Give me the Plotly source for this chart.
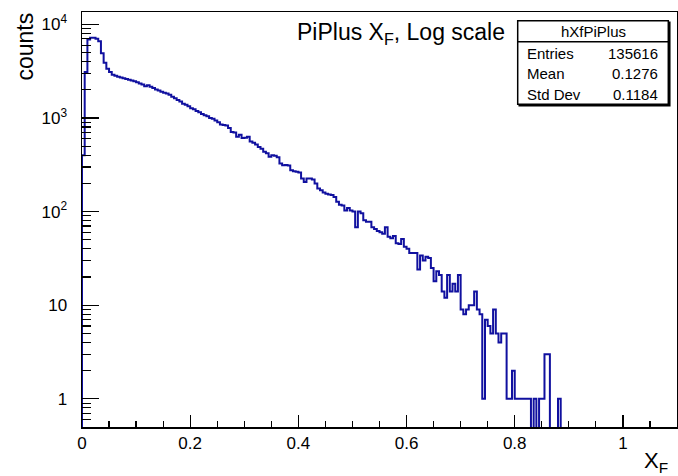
import math
import plotly.graph_objects as go

# ---------------- data ----------------
HIST_NAME = "hXfPiPlus"
TITLE = "PiPlus X<sub>F</sub>, Log scale"
X_TITLE = "X<sub>F</sub>"
Y_TITLE = "counts"
BIN_WIDTH = 0.005
X_RANGE = [0.0, 1.1]
Y_RANGE = [0.5, 13550]

COUNTS = [
    400, 3100, 6900, 7200, 7200, 7000, 6600, 4900, 3900, 3350,
    3100, 2900, 2820, 2760, 2700, 2660, 2600, 2560, 2510, 2470,
    2400, 2330, 2280, 2180, 2240, 2150, 2090, 2010, 1960, 1910,
    1860, 1820, 1770, 1690, 1620, 1560, 1500, 1420, 1380, 1330,
    1270, 1240, 1190, 1150, 1100, 1070, 1040, 1000, 980, 940,
    900, 850, 840, 830, 780, 710, 700, 630, 660, 610,
    615, 630, 560, 545, 520, 490, 470, 435, 420, 385,
    400, 395, 380, 327, 313, 315, 310, 277, 270, 266,
    262, 226, 207, 226, 226, 220, 200, 176, 169, 160,
    155, 152, 150, 143, 127, 118, 116, 103, 109, 103,
    100, 68, 100, 96, 81, 78, 78, 68, 65, 62,
    60, 58, 68, 54, 52, 55, 46, 45, 51, 42,
    40, 36, 36, 36, 24, 34, 30, 33, 32, 25,
    18, 23, 21, 14, 12, 21, 14, 17, 14, 21,
    9, 8, 9, 10, 10, 14, 9, 8, 1, 7,
    6, 5, 9, 5, 4, 5, 5, 1, 1, 2,
    1, 1, 1, 1, 1, 1, 0, 1, 0, 1,
    1, 3, 3, 0, 0, 0, 1, 0, 0, 0,
    0, 0, 0, 0, 0, 0, 0, 0, 0, 0,
    0, 0, 0, 0, 0, 0, 0, 0, 0, 0,
    0, 0, 0, 0, 0, 0, 0, 0, 0, 0,
    0, 0, 0, 0, 0, 0, 0, 0, 0, 0,
]

STAT_LABELS = ["Entries", "Mean", "Std Dev"]
STAT_VALUES = ["135616", "0.1276", "0.1184"]

Y_TICK_VALS = [1, 10, 100, 1000, 10000]
Y_TICK_TEXT = ["1", "10", "10<sup>2</sup>", "10<sup>3</sup>", "10<sup>4</sup>"]
Y_MINOR_VALS = [0.6, 0.7, 0.8, 0.9,
                2, 3, 4, 5, 6, 7, 8, 9,
                20, 30, 40, 50, 60, 70, 80, 90,
                200, 300, 400, 500, 600, 700, 800, 900,
                2000, 3000, 4000, 5000, 6000, 7000, 8000, 9000]

# ---------------- layout geometry (pixels) ----------------
W, H = 678, 476
FRAME_L, FRAME_R, FRAME_T, FRAME_B = 82, 677, 12, 427
ML, MR, MT, MB = FRAME_L, W - FRAME_R, FRAME_T, H - FRAME_B
PW, PH = W - ML - MR, H - MT - MB
FONT = "Liberation Sans, Arial, Helvetica, sans-serif"
LINE_COLOR = "#10109f"


def px(x):
    return (x - FRAME_L) / PW


def py(y):
    return (FRAME_B - y) / PH


# step histogram from bin edges
FLOOR = 1e-3
edges = [i * BIN_WIDTH for i in range(len(COUNTS) + 1)]
plot_counts = [c if c > 0 else FLOOR for c in COUNTS]
xs = [edges[0]] + edges[:-1] + [edges[-1]]
ys = [FLOOR] + plot_counts + [plot_counts[-1]]

fig = go.Figure()
fig.add_trace(go.Scatter(
    x=xs, y=ys, mode="lines", line_shape="hv",
    line=dict(color=LINE_COLOR, width=2), hoverinfo="skip", showlegend=False,
))

axis_common = dict(
    showline=True, linecolor="black", linewidth=1.5, mirror=True,
    ticks="inside", tickcolor="black", tickwidth=1.2,
    showgrid=False, zeroline=False,
    tickfont=dict(family=FONT, size=17, color="black"),
)

fig.update_xaxes(
    range=X_RANGE, tick0=0, dtick=0.2, ticklen=12,
    minor=dict(dtick=0.05, tick0=0, ticklen=6, ticks="inside",
               tickcolor="black", tickwidth=1.2, showgrid=False),
    **axis_common,
)
fig.update_yaxes(
    type="log", range=[math.log10(Y_RANGE[0]), math.log10(Y_RANGE[1])],
    tickmode="array", tickvals=Y_TICK_VALS, ticktext=Y_TICK_TEXT, ticklen=17,
    ticklabelstandoff=10,
    minor=dict(tickmode="array", tickvals=Y_MINOR_VALS, ticklen=9, ticks="inside",
               tickcolor="black", tickwidth=1.2, showgrid=False),
    **axis_common,
)

# stats box
bx0, bx1, by0, by1, bsep = 517.7, 668.3, 20.7, 104.3, 41.7
shapes = [
    dict(type="rect", xref="paper", yref="paper",
         x0=px(bx0) + 1.5 / PW, x1=px(bx1) + 1.5 / PW,
         y0=py(by1) - 1.5 / PH, y1=py(by0) - 1.5 / PH,
         line=dict(color="black", width=1.5), fillcolor="black", layer="above"),
    dict(type="rect", xref="paper", yref="paper",
         x0=px(bx0), x1=px(bx1), y0=py(by1), y1=py(by0),
         line=dict(color="black", width=1.5), fillcolor="white", layer="above"),
    dict(type="line", xref="paper", yref="paper",
         x0=px(bx0), x1=px(bx1), y0=py(bsep), y1=py(bsep),
         line=dict(color="black", width=1.5), layer="above"),
]

annotations = [
    dict(text=TITLE, x=px(401), y=py(34), xref="paper", yref="paper",
         xanchor="center", yanchor="middle", showarrow=False,
         font=dict(family=FONT, size=23, color="black")),
    dict(text=HIST_NAME, x=px(593), y=py(31.5), xref="paper", yref="paper",
         xanchor="center", yanchor="middle", showarrow=False,
         font=dict(family=FONT, size=15, color="black")),
    dict(text=Y_TITLE, x=px(24.5), y=py(47), xref="paper", yref="paper",
         xanchor="center", yanchor="middle", textangle=-90, showarrow=False,
         font=dict(family=FONT, size=23, color="black")),
    dict(text=X_TITLE, x=px(670), y=py(462), xref="paper", yref="paper",
         xanchor="right", yanchor="middle", showarrow=False,
         font=dict(family=FONT, size=22, color="black")),
]
row_y = [53.5, 74, 94]
for lab, val, yy in zip(STAT_LABELS, STAT_VALUES, row_y):
    annotations.append(dict(text=lab, x=px(525), y=py(yy), xref="paper", yref="paper",
                            xanchor="left", yanchor="middle", showarrow=False,
                            font=dict(family=FONT, size=15, color="black")))
    annotations.append(dict(text=val, x=px(660), y=py(yy), xref="paper", yref="paper",
                            xanchor="right", yanchor="middle", showarrow=False,
                            font=dict(family=FONT, size=15, color="black")))

fig.update_layout(
    width=W, height=H,
    margin=dict(l=ML, r=MR, t=MT, b=MB, autoexpand=False),
    paper_bgcolor="white", plot_bgcolor="white",
    shapes=shapes, annotations=annotations, showlegend=False,
)

fig.write_html(
    "out.html",
    config={"displayModeBar": False, "staticPlot": True},
    post_script="document.body.style.margin='0px';document.body.style.overflow='hidden';",
)
